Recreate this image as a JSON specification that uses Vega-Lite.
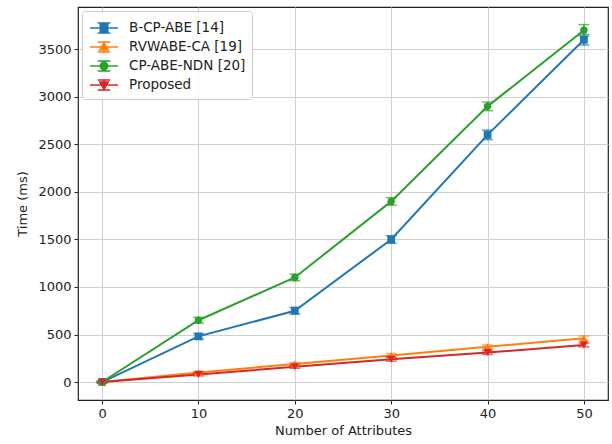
{
  "$schema": "https://vega.github.io/schema/vega-lite/v6.json",
  "width": 530,
  "height": 393,
  "autosize": {"type": "none"},
  "padding": {"left": 78, "top": 7, "right": 4, "bottom": 44},
  "background": "white",
  "config": {
    "font": "DejaVu Sans",
    "view": {"stroke": "#222222", "strokeWidth": 1.2},
    "axis": {
      "domain": false,
      "grid": true,
      "gridColor": "#cfcfcf",
      "gridWidth": 1,
      "tickColor": "#222222",
      "tickSize": 4,
      "labelFont": "DejaVu Sans",
      "labelFontSize": 13,
      "labelColor": "#222222",
      "titleFont": "DejaVu Sans",
      "titleFontSize": 13,
      "titleFontWeight": "normal",
      "titleColor": "#222222"
    }
  },
  "data": {
    "values": [
      {"series": "B-CP-ABE [14]", "x": 0, "y": 0, "ylo": -10, "yhi": 10},
      {"series": "B-CP-ABE [14]", "x": 10, "y": 480, "ylo": 450, "yhi": 510},
      {"series": "B-CP-ABE [14]", "x": 20, "y": 750, "ylo": 715, "yhi": 785},
      {"series": "B-CP-ABE [14]", "x": 30, "y": 1500, "ylo": 1460, "yhi": 1540},
      {"series": "B-CP-ABE [14]", "x": 40, "y": 2600, "ylo": 2550, "yhi": 2650},
      {"series": "B-CP-ABE [14]", "x": 50, "y": 3600, "ylo": 3545, "yhi": 3655},
      {"series": "RVWABE-CA [19]", "x": 0, "y": 0, "ylo": -5, "yhi": 5},
      {"series": "RVWABE-CA [19]", "x": 10, "y": 100, "ylo": 85, "yhi": 115},
      {"series": "RVWABE-CA [19]", "x": 20, "y": 190, "ylo": 175, "yhi": 205},
      {"series": "RVWABE-CA [19]", "x": 30, "y": 280, "ylo": 260, "yhi": 300},
      {"series": "RVWABE-CA [19]", "x": 40, "y": 370, "ylo": 350, "yhi": 390},
      {"series": "RVWABE-CA [19]", "x": 50, "y": 460, "ylo": 435, "yhi": 485},
      {"series": "CP-ABE-NDN [20]", "x": 0, "y": 0, "ylo": -10, "yhi": 10},
      {"series": "CP-ABE-NDN [20]", "x": 10, "y": 650, "ylo": 620, "yhi": 680},
      {"series": "CP-ABE-NDN [20]", "x": 20, "y": 1100, "ylo": 1065, "yhi": 1135},
      {"series": "CP-ABE-NDN [20]", "x": 30, "y": 1900, "ylo": 1860, "yhi": 1940},
      {"series": "CP-ABE-NDN [20]", "x": 40, "y": 2900, "ylo": 2855, "yhi": 2945},
      {"series": "CP-ABE-NDN [20]", "x": 50, "y": 3700, "ylo": 3640, "yhi": 3760},
      {"series": "Proposed", "x": 0, "y": 0, "ylo": -5, "yhi": 5},
      {"series": "Proposed", "x": 10, "y": 80, "ylo": 65, "yhi": 95},
      {"series": "Proposed", "x": 20, "y": 160, "ylo": 145, "yhi": 175},
      {"series": "Proposed", "x": 30, "y": 240, "ylo": 220, "yhi": 260},
      {"series": "Proposed", "x": 40, "y": 310, "ylo": 290, "yhi": 330},
      {"series": "Proposed", "x": 50, "y": 390, "ylo": 370, "yhi": 410}
    ]
  },
  "encoding": {
    "x": {
      "field": "x",
      "type": "quantitative",
      "scale": {"domain": [-2.5, 52.5], "nice": false, "zero": false},
      "axis": {"values": [0, 10, 20, 30, 40, 50], "title": "Number of Attributes", "labelPadding": 3, "titlePadding": 4}
    },
    "color": {
      "field": "series",
      "type": "nominal",
      "scale": {
        "domain": ["B-CP-ABE [14]", "RVWABE-CA [19]", "CP-ABE-NDN [20]", "Proposed"],
        "range": ["#1f77b4", "#ff7f0e", "#2ca02c", "#d62728"]
      },
      "legend": {
        "title": null,
        "orient": "none",
        "legendX": 4,
        "legendY": 4,
        "padding": 6,
        "strokeColor": "#cccccc",
        "fillColor": "rgba(255,255,255,0.85)",
        "cornerRadius": 3,
        "symbolSize": 400,
        "symbolOffset": 5,
        "symbolStrokeWidth": 1.5,
        "labelFont": "DejaVu Sans",
        "labelFontSize": 13.5,
        "labelColor": "#222222",
        "labelOffset": 14,
        "rowPadding": 0,
        "encode": {
          "symbols": {
            "update": {
              "shape": {"signal": "datum.value === 'B-CP-ABE [14]' ? 'M-1.4,0H1.4M-0.38,-0.38H0.38V0.38H-0.38ZM-0.63,-0.5H0.63M-0.63,0.5H0.63M0,-0.5V0.5' : datum.value === 'RVWABE-CA [19]' ? 'M-1.4,0H1.4M0,-0.45L0.42,0.3H-0.42ZM-0.63,-0.5H0.63M-0.63,0.5H0.63M0,-0.5V0.5' : datum.value === 'CP-ABE-NDN [20]' ? 'M-1.4,0H1.4M-0.38,0A0.38,0.38,0,1,1,0.38,0A0.38,0.38,0,1,1,-0.38,0ZM-0.63,-0.5H0.63M-0.63,0.5H0.63M0,-0.5V0.5' : 'M-1.4,0H1.4M0,0.45L0.42,-0.3H-0.42ZM-0.63,-0.5H0.63M-0.63,0.5H0.63M0,-0.5V0.5'"},
              "fill": {"scale": "color", "field": "value"},
              "stroke": {"scale": "color", "field": "value"},
              "strokeWidth": {"value": 1.5},
              "opacity": {"value": 1}
            }
          }
        }
      }
    }
  },
  "layer": [
    {
      "mark": {"type": "line", "strokeWidth": 2},
      "encoding": {
        "y": {
          "field": "y",
          "type": "quantitative",
          "scale": {"domain": [-189, 3945], "nice": false, "zero": false},
          "axis": {"values": [0, 500, 1000, 1500, 2000, 2500, 3000, 3500], "format": "d", "title": "Time (ms)", "labelPadding": 3, "titlePadding": 8}
        }
      }
    },
    {
      "mark": {"type": "rule", "strokeWidth": 1.5},
      "encoding": {
        "y": {"field": "ylo", "type": "quantitative"},
        "y2": {"field": "yhi"}
      }
    },
    {
      "mark": {"type": "tick", "orient": "horizontal", "size": 11, "thickness": 1.5},
      "encoding": {
        "y": {"field": "ylo", "type": "quantitative"}
      }
    },
    {
      "mark": {"type": "tick", "orient": "horizontal", "size": 11, "thickness": 1.5},
      "encoding": {
        "y": {"field": "yhi", "type": "quantitative"}
      }
    },
    {
      "transform": [{"filter": "datum.series === 'B-CP-ABE [14]'"}],
      "mark": {"type": "point", "filled": true, "opacity": 1, "size": 60, "shape": "square"},
      "encoding": {"y": {"field": "y", "type": "quantitative"}}
    },
    {
      "transform": [{"filter": "datum.series === 'RVWABE-CA [19]'"}],
      "mark": {"type": "point", "filled": true, "opacity": 1, "size": 65, "shape": "triangle-up"},
      "encoding": {"y": {"field": "y", "type": "quantitative"}}
    },
    {
      "transform": [{"filter": "datum.series === 'CP-ABE-NDN [20]'"}],
      "mark": {"type": "point", "filled": true, "opacity": 1, "size": 55, "shape": "circle"},
      "encoding": {"y": {"field": "y", "type": "quantitative"}}
    },
    {
      "transform": [{"filter": "datum.series === 'Proposed'"}],
      "mark": {"type": "point", "filled": true, "opacity": 1, "size": 65, "shape": "triangle-down"},
      "encoding": {"y": {"field": "y", "type": "quantitative"}}
    }
  ]
}
